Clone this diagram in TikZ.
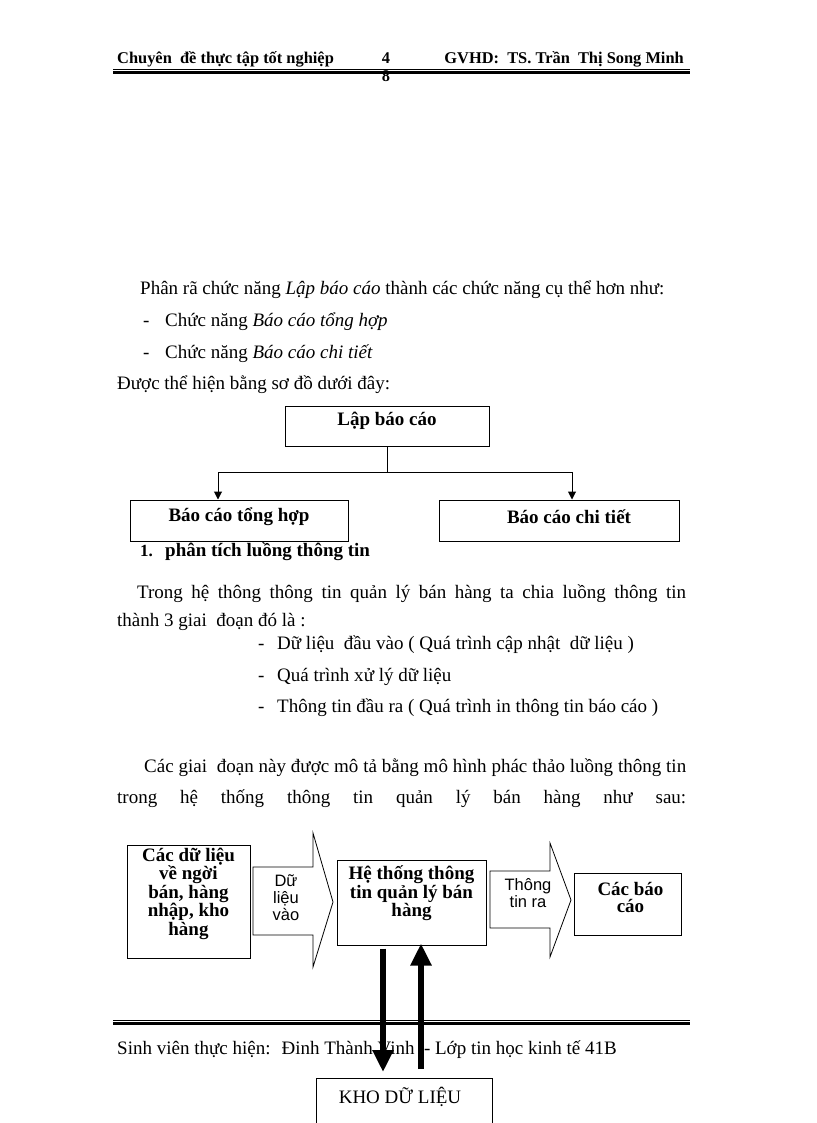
\documentclass[tikz,border=0pt]{standalone}
\usepackage{fontspec}
\setmainfont{Liberation Serif}
\setsansfont{Liberation Sans}
\usetikzlibrary{arrows.meta, positioning, calc}

\begin{document}
\begin{tikzpicture}[
  x=1pt, y=-1pt,
  body/.style={anchor=base west, inner sep=0pt, font=\fontsize{19}{21}\selectfont},
  head/.style={anchor=base west, inner sep=0pt, font=\fontsize{16.4}{18}\selectfont\bfseries},
  box/.style={draw, line width=1pt, inner sep=0pt},
  boxlabel/.style={inner sep=0pt, align=center, font=\fontsize{19}{17}\selectfont\bfseries},
  flowlabel/.style={inner sep=0pt, align=center, font=\sffamily\fontsize{16.5}{17}\selectfont},
  flow/.style={draw, line width=0.8pt, line join=miter},
  arrow/.style={-{Triangle[length=8pt, width=8pt]}, line width=1pt},
  bigarrow/.style={-{Triangle[length=22pt, width=20pt]}, line width=6pt},
  rule/.style={line width=3pt}
]
\useasboundingbox (0,0) rectangle (816,1123);

% Header
\node[head] (course) at (117,64) {Chuyên \ đề thực tập tốt nghiệp};
\node[head, anchor=base] (pgtop) at (386,64) {4};
\node[head, anchor=base] (pgbot) at (386,82) {8};
\node[head, anchor=base east] (tutor) at (684,64) {GVHD: \ TS. Trần \ Thị Song Minh};
\draw[line width=1pt] (113,69.5) -- (690,69.5);
\draw[rule] (113,73) -- (690,73);

% Intro text
\node[body] (intro) at (140,294) {Phân rã chức năng \textit{Lập báo cáo} thành các chức năng cụ thể hơn như:};
\node[body] (dasha) at (143,326) {-};
\node[body] (itema) at (165,326) {Chức năng \textit{Báo cáo tổng hợp}};
\node[body] (dashb) at (143,358) {-};
\node[body] (itemb) at (165,358) {Chức năng \textit{Báo cáo chi tiết}};
\node[body] (shown) at (117,389) {Được thể hiện bằng sơ đồ dưới đây:};

% Function tree
\node[box, minimum width=204pt, minimum height=40pt] (lap) at (387,426) {};
\node[boxlabel] (laptxt) at ([yshift=5pt]lap.center) {Lập báo cáo};
\node[box, minimum width=218pt, minimum height=41pt] (tonghop) at (239,520.5) {};
\node[boxlabel] (tonghoptxt) at ([yshift=4pt]tonghop.center) {Báo cáo tổng hợp};
\node[box, minimum width=240pt, minimum height=41pt] (chitiet) at (559,520.5) {};
\node[boxlabel] (chitiettxt) at ([xshift=10pt, yshift=4pt]chitiet.center) {Báo cáo chi tiết};
\coordinate (fork) at (387,472);
\draw[line width=1pt] (lap.south) -- (fork);
\draw[arrow] (fork) -| ([xshift=-21pt]tonghop.north);
\draw[arrow] (fork) -| ([xshift=13pt]chitiet.north);

% Section heading
\node[body, font=\fontsize{17}{20}\selectfont\bfseries] (secnum) at (140,556) {1.};
\node[body, font=\fontsize{19}{20}\selectfont\bfseries] (sectitle) at (165,556) {phân tích luồng thông tin};

% Stages
\node[body] (parta) at (137,598) {\makebox[549pt][s]{Trong hệ thông thông tin quản lý bán hàng ta chia luồng thông tin}};
\node[body] (partb) at (117,626) {thành 3 giai \ đoạn đó là :};
\node[body] (dashc) at (258,649) {-};
\node[body] (stagea) at (277,649) {Dữ liệu \ đầu vào ( Quá trình cập nhật \ dữ liệu )};
\node[body] (dashd) at (258,681) {-};
\node[body] (stageb) at (277,681) {Quá trình xử lý dữ liệu};
\node[body] (dashe) at (258,712) {-};
\node[body] (stagec) at (277,712) {Thông tin đầu ra ( Quá trình in thông tin báo cáo )};
\node[body] (partc) at (144,772) {\makebox[542pt][s]{Các giai \ đoạn này được mô tả bằng mô hình phác thảo luồng thông tin}};
\node[body] (partd) at (117,803) {\makebox[569pt][s]{trong hệ thống thông tin quản lý bán hàng như sau:}};

% Information flow
\node[box, minimum width=123pt, minimum height=113pt] (src) at (188.5,901.5) {};
\node[boxlabel] (srctxt) at ([yshift=8pt]src.center) {Các dữ liệu\\về ngời\\bán, hàng\\nhập, kho\\hàng};
\draw[flow] (253,867) -- (313,867) -- (313,833) -- (333,902) -- (313,967) -- (313,935) -- (253,935) -- cycle;
\node[flowlabel] (inflow) at (286,898) {Dữ\\liệu\\vào};
\node[box, minimum width=149pt, minimum height=85pt] (sys) at (411.5,902.5) {};
\node[boxlabel] (systxt) at ([yshift=9pt]sys.center) {Hệ thống thông\\tin quản lý bán\\hàng};
\draw[flow] (490,871) -- (550,871) -- (550,843) -- (571,900) -- (550,957) -- (550,928) -- (490,928) -- cycle;
\node[flowlabel] (outflow) at (528,893) {Thông\\tin ra};
\node[box, minimum width=107pt, minimum height=62pt] (reports) at (627.5,904) {};
\node[boxlabel] (reportstxt) at ([xshift=3pt, yshift=7pt]reports.center) {Các báo\\cáo};

% Footer
\draw[line width=1pt] (113,1020) -- (690,1020);
\draw[rule] (113,1023.5) -- (690,1023.5);
\node[body] (student) at (117,1054) {Sinh viên thực hiện: \ Đinh Thành Vinh \ - Lớp tin học kinh tế 41B};

% Data store
\node[box, minimum width=176pt, minimum height=60pt, anchor=north] (kho) at (404,1078) {};
\node[inner sep=0pt, font=\fontsize{19}{21}\selectfont] (khotxt) at (400,1097) {KHO DỮ LIỆU};
\draw[bigarrow] ([xshift=-28.5pt, yshift=-3pt]sys.south) -- ([xshift=-21pt, yshift=6pt]kho.north);
\draw[bigarrow] ([xshift=17pt, yshift=9pt]kho.north) -- ([xshift=9.5pt, yshift=2pt]sys.south);

\end{tikzpicture}
\end{document}
